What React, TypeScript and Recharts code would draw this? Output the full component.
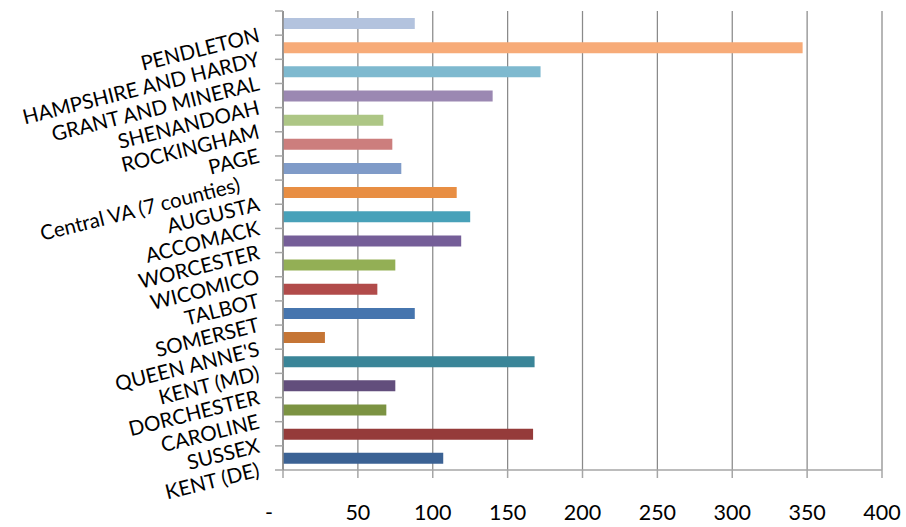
import { BarChart, Bar, Cell, XAxis, YAxis, CartesianGrid } from "recharts";

// counties, listed top to bottom as they appear on the axis
const counties = [
  "PENDLETON",
  "HAMPSHIRE AND HARDY",
  "GRANT AND MINERAL",
  "SHENANDOAH",
  "ROCKINGHAM",
  "PAGE",
  "Central VA (7 counties)",
  "AUGUSTA",
  "ACCOMACK",
  "WORCESTER",
  "WICOMICO",
  "TALBOT",
  "SOMERSET",
  "QUEEN ANNE'S",
  "KENT (MD)",
  "DORCHESTER",
  "CAROLINE",
  "SUSSEX",
  "KENT (DE)",
];

const values = [88, 347, 172, 140, 67, 73, 79, 116, 125, 119, 75, 63, 88, 28, 168, 75, 69, 167, 107];

const barColors = [
  "#B3C3DE", "#F7AB78", "#7EB9CF", "#9B88B2", "#ADC685", "#CC7E7D", "#7F9BC8",
  "#E88E43", "#48A1B9", "#755E98", "#93AF55", "#B14B4A", "#4675AE", "#C57535",
  "#3A8598", "#624E7C", "#7C9342", "#953B3A", "#3B6294",
];

const xTicks = [0, 50, 100, 150, 200, 250, 300, 350, 400];

const data = counties.map((name, i) => ({ name, value: values[i] }));

const WIDTH = 906;
const HEIGHT = 527;
const MARGIN = { top: 11, right: 24, bottom: 0, left: 0 };
const Y_AXIS_W = 283;
const X_AXIS_H = 57;
const PLOT_H = HEIGHT - MARGIN.top - MARGIN.bottom - X_AXIS_H;
const BAND = PLOT_H / counties.length;

const FONT = "Lato, 'Open Sans', sans-serif";
const AXIS_GRAY = "#a6a6a6";
const GRID_GRAY = "#8a8a8a";

// the long Central VA label sits a bit further left along its slant
const labelShift: Record<string, number> = { "Central VA (7 counties)": -20 };

function CountyTick(props: any) {
  const { x, y, payload, index, visibleTicksCount } = props;
  const label = String(payload.value);
  const ax = x - 27;
  const tx = ax + (labelShift[label] ?? 0);
  const last = index === visibleTicksCount - 1;
  return (
    <g>
      <line x1={x - 8} x2={x} y1={y - BAND / 2} y2={y - BAND / 2} stroke={AXIS_GRAY} strokeWidth={1.5} />
      {last && (
        <line x1={x - 8} x2={x} y1={y + BAND / 2} y2={y + BAND / 2} stroke={AXIS_GRAY} strokeWidth={1.5} />
      )}
      <g transform={`rotate(-14, ${ax}, ${y})`}>
        <text x={tx} y={y} dy={19} textAnchor="end" fontFamily={FONT} fontSize={20.5} fill="#000">
          {label}
        </text>
      </g>
    </g>
  );
}

function ValueTick(props: any) {
  const { x, y, payload } = props;
  const v = Number(payload.value);
  return (
    <text
      x={v === 0 ? x - 14 : x}
      y={y + 42}
      textAnchor="middle"
      fontFamily={FONT}
      fontSize={21.5}
      fill="#000"
    >
      {v === 0 ? "-" : v}
    </text>
  );
}

export default function App() {
  return (
    <div style={{ position: "absolute", left: 0, top: 0, width: WIDTH, height: HEIGHT, background: "#fff" }}>
      <BarChart width={WIDTH} height={HEIGHT} data={data} layout="vertical" margin={MARGIN}>
        <CartesianGrid horizontal={false} stroke={GRID_GRAY} strokeWidth={1.25} />
        <XAxis
          type="number"
          domain={[0, 400]}
          ticks={xTicks}
          height={X_AXIS_H}
          axisLine={{ stroke: AXIS_GRAY, strokeWidth: 1.5 }}
          tickLine={{ stroke: AXIS_GRAY, strokeWidth: 1.5 }}
          tickSize={8}
          tickMargin={0}
          tick={<ValueTick />}
          interval={0}
        />
        <YAxis
          type="category"
          dataKey="name"
          width={Y_AXIS_W}
          axisLine={{ stroke: GRID_GRAY, strokeWidth: 1.5 }}
          tickLine={false}
          tickSize={0}
          tickMargin={0}
          tick={<CountyTick />}
          interval={0}
        />
        <Bar dataKey="value" barSize={11} isAnimationActive={false}>
          {data.map((d, i) => (
            <Cell key={d.name} fill={barColors[i]} />
          ))}
        </Bar>
      </BarChart>
    </div>
  );
}
